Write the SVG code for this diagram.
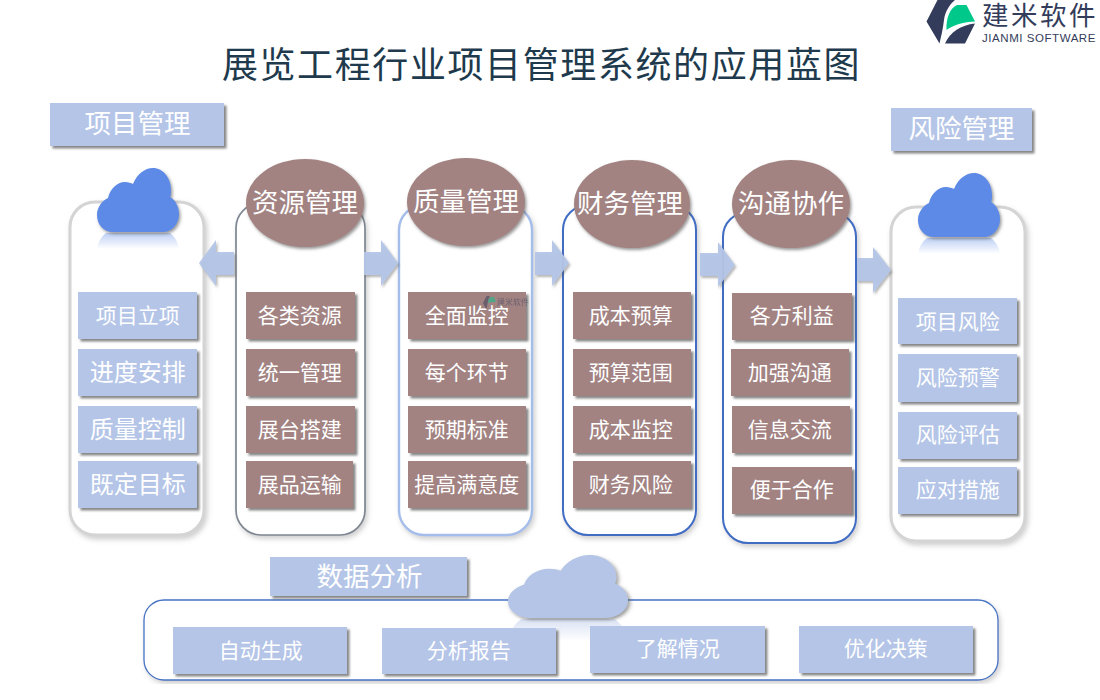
<svg xmlns="http://www.w3.org/2000/svg" width="1100" height="700" viewBox="0 0 1100 700">
<style>
text{font-family:"Liberation Serif","Noto Sans CJK SC",serif;text-anchor:middle;fill:#fff}
.t{font-size:36px;fill:#1e3a4c;letter-spacing:1.6px}
.h{font-size:26.5px;transform:translate(0,-.5px)}
.s{font-size:21px;transform:translate(-.2px,-.5px)}
.m{font-size:24px;transform:translate(-.2px,-.5px)}
.panel{fill:#fff;filter:url(#ps)}
.g{stroke:#d4d4d4;stroke-width:3}.d{stroke:#7f8792;stroke-width:1.7}.l{stroke:#a5bdea;stroke-width:2.4}.b{stroke:#3f6cc4;stroke-width:2}
.bl{fill:#b4c5e7;filter:url(#bs)}
.br{fill:#a28382;filter:url(#bs)}
.el{fill:#a28382;filter:url(#es)}
.ar{fill:#b4c5e7;fill-opacity:.95;filter:url(#as)}
</style>
<defs>
<filter id="bs" x="-10%" y="-10%" width="125%" height="130%"><feDropShadow dx="2.5" dy="2.5" stdDeviation="1.2" flood-color="#555" flood-opacity=".7"/></filter>
<filter id="es" x="-10%" y="-10%" width="125%" height="125%"><feDropShadow dx="1.5" dy="2" stdDeviation="1.5" flood-color="#555" flood-opacity=".6"/></filter>
<filter id="as" x="-20%" y="-20%" width="150%" height="150%"><feDropShadow dx="1.5" dy="2" stdDeviation="1.2" flood-color="#555" flood-opacity=".45"/></filter>
<filter id="ps" x="-10%" y="-5%" width="120%" height="110%"><feDropShadow dx="2" dy="3" stdDeviation="2.5" flood-color="#888" flood-opacity=".4"/></filter>
<linearGradient id="rb" x1="0" y1="0" x2="0" y2="1"><stop offset="0" stop-color="#5b8ae6" stop-opacity=".4"/><stop offset="1" stop-color="#5b8ae6" stop-opacity="0"/></linearGradient>
<linearGradient id="rl" x1="0" y1="0" x2="0" y2="1"><stop offset="0" stop-color="#b4c5e7" stop-opacity=".5"/><stop offset="1" stop-color="#b4c5e7" stop-opacity="0"/></linearGradient>
<path id="cloud" d="M16 64C7 64 0 57 0 47C0 39 5 33 11 30C13 21 20 14 28 14C31 14 34 15 36 16C40 6 48 0 56 0C66 0 74 10 74 22C74 25 74 27 73 29C78 32 82 38 82 46C82 56 75 64 66 64Z"/>
<path id="refl" d="M9 0H73C78 4 81 9 82 16H0C1 9 4 4 9 0Z"/>
</defs>

<g id="logo">
<path fill="#333c5a" d="M926.500 21.500L937.500 0H955C949 5 945 12 944 20C943 29 941 37 939.500 43.500Z"/>
<path fill="#00c78a" d="M946.500 30C946 18 950 8 957 5H966.500L975 21.500C964 22 953 25 946.500 30Z"/>
<path fill="#333c5a" d="M945 43.500C950 32 961 25 975 23.500L965 43.500Z"/>
<text x="1040" y="24.500" style="font-family:'Liberation Sans','Noto Sans CJK SC',sans-serif;font-size:26.500px;fill:#333c5a;letter-spacing:2.500px">建米软件</text>
<text x="1039" y="42" style="font-family:'Liberation Sans',sans-serif;font-size:11.500px;fill:#333c5a;letter-spacing:.55px">JIANMI SOFTWARE</text>
</g>
<text id="title" class="t" x="541.500" y="78">展览工程行业项目管理系统的应用蓝图</text>

<g id="panel-xmgl">
<rect class="panel g" x="70" y="202" width="134" height="333" rx="25"/>
<use href="#refl" x="97" y="233" fill="url(#rb)"/>
<use href="#cloud" x="97" y="168" fill="#5b8ae6" filter="url(#es)"/>
<rect class="bl" x="50" y="103" width="174" height="43"/><text class="h" x="137.500" y="133">项目管理</text>
<rect class="bl" x="78" y="292" width="119" height="47"/><text class="s" x="138" y="323">项目立项</text>
<rect class="bl" x="78" y="349" width="119" height="47"/><text class="m" x="138" y="381">进度安排</text>
<rect class="bl" x="78" y="406" width="119" height="47"/><text class="m" x="138" y="438">质量控制</text>
<rect class="bl" x="78" y="461" width="119" height="47"/><text class="m" x="138" y="493">既定目标</text>
</g>

<g id="panel-zygl">
<rect class="panel d" x="236" y="203" width="129" height="332" rx="25"/>
<ellipse class="el" cx="305" cy="203" rx="59" ry="44"/><text class="h" x="305" y="212">资源管理</text>
<rect class="br" x="246" y="292" width="109" height="47"/><text class="s" x="300" y="323">各类资源</text>
<rect class="br" x="246" y="349" width="109" height="47"/><text class="s" x="300" y="380">统一管理</text>
<rect class="br" x="246" y="406" width="109" height="47"/><text class="s" x="300" y="437">展台搭建</text>
<rect class="br" x="246" y="461" width="107" height="47"/><text class="s" x="300" y="492">展品运输</text>
</g>

<g id="panel-zlgl">
<rect class="panel l" x="399" y="205" width="133" height="330" rx="25"/>
<ellipse class="el" cx="466" cy="202" rx="59" ry="44"/><text class="h" x="466" y="211">质量管理</text>
<rect class="br" x="408" y="292" width="118" height="47"/><text class="s" x="467" y="323">全面监控</text>
<rect class="br" x="408" y="349" width="118" height="47"/><text class="s" x="467" y="380">每个环节</text>
<rect class="br" x="408" y="406" width="118" height="47"/><text class="s" x="467" y="437">预期标准</text>
<rect class="br" x="408" y="461" width="118" height="47"/><text class="s" x="467" y="492">提高满意度</text>
</g>

<g id="panel-cwgl">
<rect class="panel b" x="563" y="205" width="133" height="330" rx="25"/>
<ellipse class="el" cx="632" cy="204" rx="58" ry="44"/><text class="h" x="630" y="213">财务管理</text>
<rect class="br" x="573" y="292" width="118" height="47"/><text class="s" x="631" y="323">成本预算</text>
<rect class="br" x="573" y="349" width="118" height="47"/><text class="s" x="631" y="380">预算范围</text>
<rect class="br" x="573" y="406" width="118" height="47"/><text class="s" x="631" y="437">成本监控</text>
<rect class="br" x="573" y="461" width="118" height="47"/><text class="s" x="631" y="492">财务风险</text>
</g>

<g id="panel-gtxz">
<rect class="panel b" x="723" y="212" width="133" height="331" rx="25"/>
<ellipse class="el" cx="791" cy="204" rx="59" ry="44"/><text class="h" x="791" y="213">沟通协作</text>
<rect class="br" x="732" y="293" width="120" height="47"/><text class="s" x="792" y="323">各方利益</text>
<rect class="br" x="731" y="349" width="118" height="47"/><text class="s" x="790" y="380">加强沟通</text>
<rect class="br" x="732" y="406" width="118" height="47"/><text class="s" x="790" y="437">信息交流</text>
<rect class="br" x="732" y="467" width="120" height="47"/><text class="s" x="792" y="497">便于合作</text>
</g>

<g id="panel-fxgl">
<rect class="panel g" x="891" y="207" width="134" height="334" rx="25"/>
<use href="#refl" x="918" y="238" fill="url(#rb)"/>
<use href="#cloud" x="918" y="173" fill="#5b8ae6" filter="url(#es)"/>
<rect class="bl" x="891" y="108" width="141" height="43"/><text class="h" x="961.500" y="138.500">风险管理</text>
<rect class="bl" x="898" y="298" width="119" height="46"/><text class="s" x="958" y="329">项目风险</text>
<rect class="bl" x="898" y="354" width="119" height="48"/><text class="s" x="958" y="385.500">风险预警</text>
<rect class="bl" x="898" y="412" width="119" height="47"/><text class="s" x="958" y="442.500">风险评估</text>
<rect class="bl" x="898" y="467" width="119" height="47"/><text class="s" x="958" y="497.500">应对措施</text>
</g>

<g id="panel-sjfx">
<rect x="144" y="600" width="854" height="80" rx="20" fill="#fff" stroke="#4472c4" stroke-width="1.300" filter="url(#ps)"/>
<use href="#refl" transform="translate(508 619) scale(1.463 1.4)" fill="url(#rl)"/>
<use href="#cloud" transform="translate(508 555) scale(1.463 .984)" fill="#b4c5e7" filter="url(#es)"/>
<rect class="bl" x="270" y="557" width="197" height="39"/><text class="h" x="369.500" y="586">数据分析</text>
<rect class="bl" x="173" y="627" width="174" height="47"/><text class="s" x="261" y="658">自动生成</text>
<rect class="bl" x="382" y="628" width="174" height="46"/><text class="s" x="469" y="658">分析报告</text>
<rect class="bl" x="590" y="626" width="175" height="47"/><text class="s" x="678" y="656">了解情况</text>
<rect class="bl" x="799" y="626" width="174" height="47"/><text class="s" x="886" y="656">优化决策</text>
</g>

<g id="connectors">
<polygon class="ar" points="234,252 216,252 216,240 199,263 216,286 216,275 234,275"/>
<polygon class="ar" points="364,252 381,252 381,240 398,263 381,286 381,275 364,275"/>
<polygon class="ar" points="535,252 552,252 552,240 569,263 552,286 552,275 535,275"/>
<polygon class="ar" points="700,253 718,253 718,242 735,265 718,287 718,276 700,276"/>
<polygon class="ar" points="857,258 873,258 873,247 891,270 873,293 873,281 857,281"/>
</g>

<g id="watermark" opacity=".5">
<path fill="#333c5a" d="M483 303L486.500 296H490C488 299 487.500 304 486.500 310Z"/>
<path fill="#00c78a" d="M488 303C488 299 490 297 492 297H494L496 302C493 302 490 302 488 303Z"/>
<text x="513" y="304.500" style="font-family:'Noto Sans CJK SC',sans-serif;font-size:8px;fill:#333c5a">建米软件</text>
</g>
</svg>
